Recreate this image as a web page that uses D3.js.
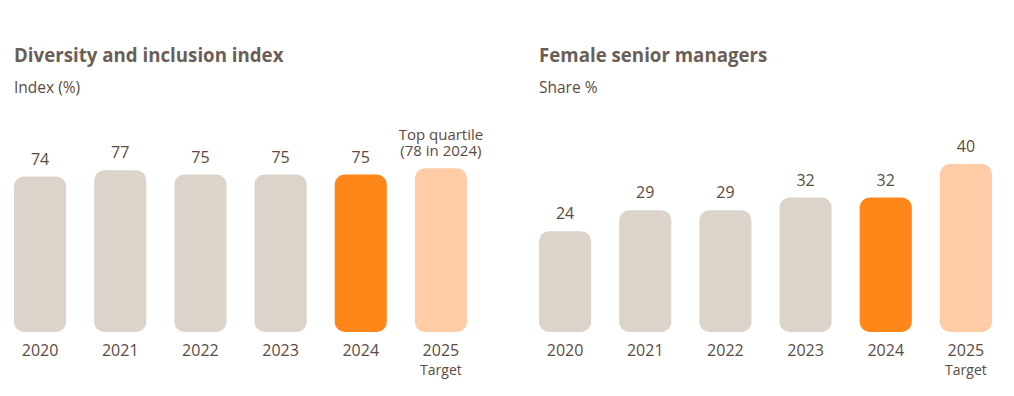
<!DOCTYPE html>
<html>
<head>
<meta charset="utf-8">
<script src="https://cdn.jsdelivr.net/npm/d3@7"></script>
<style>
	body { margin: 0; background: #fff; }
	svg { font-family: "Open Sans", sans-serif; }
</style>
</head>
<body>
<div id="chart"></div>
<script>
// data
const years = ['2020', '2021', '2022', '2023', '2024', '2025'];
const diversityValues = [74, 77, 75, 75, 75, 78];
const diversityLabels = ['74', '77', '75', '75', '75', ['Top quartile', '(78 in 2024)']];
const femaleValues = [24, 29, 29, 32, 32, 40];
const femaleLabels = ['24', '29', '29', '32', '32', '40'];

const width = 1014, height = 396;
const colors = ['#dcd3cb', '#dcd3cb', '#dcd3cb', '#dcd3cb', '#ff8719', '#ffcca6'];

let svg = d3.select('#chart')
	.append('svg')
	.attr('width', width)
	.attr('height', height);

function drawPanel(offsetX, title, subtitle, values, labels, maxY) {
	let g = svg.append('g')
		.attr('transform', `translate(${offsetX}, 0)`);

	g.append('text')
		.attr('x', 14)
		.attr('y', 62)
		.style('font-size', '18.7px')
		.style('font-weight', 700)
		.style('fill', '#6b5e57')
		.text(title);

	g.append('text')
		.attr('x', 14)
		.attr('y', 93)
		.style('font-size', '15.5px')
		.style('fill', '#5a4b44')
		.text(subtitle);

	let xScale = d3.scaleBand()
		.domain(years)
		.range([0, 481])
		.paddingInner(0.35)
		.paddingOuter(0.175);

	let yScale = d3.scaleLinear()
		.domain([0, maxY])
		.range([332, 122]);

	g.selectAll('rect.bar')
		.data(values)
		.enter()
		.append('rect')
		.attr('class', 'bar')
		.attr('x', (d, i) => xScale(years[i]))
		.attr('y', d => yScale(d))
		.attr('width', xScale.bandwidth())
		.attr('height', d => yScale(0) - yScale(d))
		.attr('rx', 10)
		.style('fill', (d, i) => colors[i]);

	// value labels
	g.selectAll('text.value')
		.data(values)
		.enter()
		.append('text')
		.attr('class', 'value')
		.attr('x', (d, i) => xScale(years[i]) + xScale.bandwidth() / 2)
		.attr('y', d => yScale(d) - 12)
		.style('text-anchor', 'middle')
		.style('font-size', '16px')
		.style('fill', '#5a4b44')
		.each(function (d, i) {
			let lab = labels[i];
			let t = d3.select(this);
			if (Array.isArray(lab)) {
				t.style('font-size', '15px');
				lab.forEach((line, j) => {
					t.append('tspan')
						.attr('x', xScale(years[i]) + xScale.bandwidth() / 2)
						.attr('dy', j === 0 ? -16 : 16)
						.text(line);
				});
			} else {
				t.text(lab);
			}
		});

	// x axis labels
	let xAxis = g.append('g')
		.attr('transform', 'translate(0, 332)')
		.call(d3.axisBottom(xScale).tickSize(0).tickPadding(10));
	xAxis.select('.domain').remove();
	xAxis.selectAll('text')
		.attr('dy', '0')
		.attr('y', 24)
		.style('font-size', '16px')
		.style('font-family', '"Open Sans", sans-serif')
		.style('fill', '#5a4b44');

	g.append('text')
		.attr('x', xScale('2025') + xScale.bandwidth() / 2)
		.attr('y', 375)
		.style('text-anchor', 'middle')
		.style('font-size', '14px')
		.style('fill', '#5a4b44')
		.text('Target');
}

drawPanel(0, 'Diversity and inclusion index', 'Index (%)', diversityValues, diversityLabels, 100);
drawPanel(525, 'Female senior managers', 'Share %', femaleValues, femaleLabels, 50);
</script>
</body>
</html>
